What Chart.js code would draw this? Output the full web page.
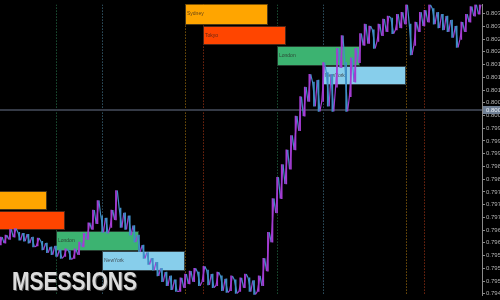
<!DOCTYPE html>
<html>
<head>
<meta charset="utf-8">
<script src="https://cdn.jsdelivr.net/npm/chart.js@4"></script>
<style>
  html, body { margin: 0; padding: 0; background: #000; }
  #wrap { width: 500px; height: 300px; }
</style>
</head>
<body>
<div id="wrap"><canvas id="chart"></canvas></div>
<script>
// Half-hour bars, hours counted from the second Sydney open
const firstBarHour = -20;
const barStepHours = 0.5;

const highs = [
  0.79638, 0.79644, 0.79662, 0.79665, 0.79653, 0.79650, 0.79647, 0.79638, 0.79635, 0.79625,
  0.79619, 0.79607, 0.79610, 0.79598, 0.79601, 0.79595, 0.79601, 0.79622, 0.79650, 0.79683,
  0.79723, 0.79753, 0.79705, 0.79698, 0.79723, 0.79784, 0.79729, 0.79714, 0.79705, 0.79674,
  0.79644, 0.79613, 0.79589, 0.79571, 0.79559, 0.79540, 0.79528, 0.79516, 0.79504, 0.79510,
  0.79522, 0.79531, 0.79540, 0.79528, 0.79546, 0.79534, 0.79522, 0.79528, 0.79516, 0.79507,
  0.79516, 0.79504, 0.79510, 0.79522, 0.79510, 0.79501, 0.79516, 0.79571, 0.79653, 0.79759,
  0.79826, 0.79866, 0.79912, 0.79957, 0.80018, 0.80079, 0.80109, 0.80149, 0.80125, 0.80131,
  0.80186, 0.80155, 0.80149, 0.80231, 0.80271, 0.80186, 0.80201, 0.80231, 0.80277, 0.80307,
  0.80301, 0.80289, 0.80307, 0.80323, 0.80332, 0.80326, 0.80338, 0.80344, 0.80368, 0.80307,
  0.80313, 0.80344, 0.80350, 0.80368, 0.80356, 0.80344, 0.80338, 0.80332, 0.80320, 0.80301,
  0.80313, 0.80338, 0.80362, 0.80368, 0.80368
];
const lows = [
  0.79613, 0.79619, 0.79631, 0.79638, 0.79628, 0.79625, 0.79619, 0.79607, 0.79610, 0.79598,
  0.79589, 0.79583, 0.79577, 0.79571, 0.79577, 0.79568, 0.79571, 0.79583, 0.79607, 0.79631,
  0.79662, 0.79680, 0.79653, 0.79650, 0.79668, 0.79692, 0.79668, 0.79662, 0.79644, 0.79622,
  0.79592, 0.79571, 0.79552, 0.79534, 0.79516, 0.79498, 0.79485, 0.79473, 0.79467, 0.79467,
  0.79479, 0.79491, 0.79498, 0.79485, 0.79498, 0.79488, 0.79479, 0.79485, 0.79470, 0.79464,
  0.79470, 0.79461, 0.79467, 0.79479, 0.79467, 0.79458, 0.79467, 0.79485, 0.79531, 0.79622,
  0.79714, 0.79759, 0.79805, 0.79851, 0.79912, 0.79972, 0.80018, 0.80064, 0.80049, 0.80033,
  0.80064, 0.80049, 0.80033, 0.80109, 0.80170, 0.80033, 0.80079, 0.80125, 0.80186, 0.80240,
  0.80246, 0.80231, 0.80253, 0.80271, 0.80283, 0.80277, 0.80289, 0.80295, 0.80307, 0.80210,
  0.80240, 0.80283, 0.80301, 0.80313, 0.80307, 0.80295, 0.80289, 0.80283, 0.80265, 0.80234,
  0.80259, 0.80283, 0.80313, 0.80332, 0.80338
];

const priceTicks = [
  0.80340, 0.80300, 0.80260, 0.80220, 0.80180, 0.80140, 0.80100, 0.80060, 0.80020, 0.79980,
  0.79940, 0.79900, 0.79860, 0.79820, 0.79780, 0.79740, 0.79700, 0.79660, 0.79620, 0.79580,
  0.79540, 0.79500, 0.79460
];

// Sessions
const sessionNames = ['Sydney', 'Tokyo', 'London', 'NewYork'];
const sessionColors = ['#ffa500', '#ff4500', '#3cb371', '#87ceeb'];
const sessionLineColors = ['#b07a10', '#b03a18', '#2a7a50', '#4a7f98'];
const sessionOpens = [0, 2, 10, 15];
const sessionLength = 9;
const dayOffsets = [-24, 0, 24];
const boxHighs = [[0.79784, 0.79720, 0.79656, 0.79595], [0.80372, 0.80301, 0.80237, 0.80176]];
const boxLows  = [[0.79723, 0.79659, 0.79595, 0.79531], [0.80304, 0.80240, 0.80176, 0.80116]];
const crosshairPrice = 0.80038;

const upColor = '#a43cd2';
const downColor = '#3f8fc6';

const isUp = highs.map((h, i) => i === 0 || (h + lows[i]) >= (highs[i - 1] + lows[i - 1]));
const barColors = isUp.map(u => u ? upColor : downColor);

// zigzag trace through each bar's range, low->high on up bars, high->low on down bars
const trace = [];
highs.forEach((h, i) => {
  const t = firstBarHour + i * barStepHours;
  const a = isUp[i] ? lows[i] : h;
  const b = isUp[i] ? h : lows[i];
  trace.push({ x: t - barStepHours * 0.3, y: a });
  trace.push({ x: t + barStepHours * 0.3, y: b });
});

const sessionsPlugin = {
  id: 'sessions',
  beforeDatasetsDraw(chart) {
    const { ctx, chartArea: a, scales: { x, y } } = chart;
    ctx.save();
    ctx.beginPath();
    ctx.rect(a.left, a.top, a.right - a.left, a.bottom - a.top);
    ctx.clip();

    // dotted open lines
    ctx.lineWidth = 1;
    ctx.setLineDash([1, 2]);
    dayOffsets.forEach(d => {
      sessionOpens.forEach((o, s) => {
        const px = Math.round(x.getPixelForValue(d + o)) + 0.5;
        ctx.strokeStyle = sessionLineColors[s];
        ctx.beginPath();
        ctx.moveTo(px, a.top);
        ctx.lineTo(px, a.bottom);
        ctx.stroke();
      });
    });
    ctx.setLineDash([]);

    // session boxes
    boxHighs.forEach((row, day) => {
      row.forEach((hi, s) => {
        const start = dayOffsets[day] + sessionOpens[s];
        const x1 = Math.round(x.getPixelForValue(start));
        const x2 = Math.round(x.getPixelForValue(start + sessionLength));
        const y1 = Math.round(y.getPixelForValue(hi));
        const y2 = Math.round(y.getPixelForValue(boxLows[day][s]));
        ctx.fillStyle = sessionColors[s];
        ctx.fillRect(x1, y1, x2 - x1, y2 - y1);
        ctx.strokeStyle = 'rgba(30,30,30,0.8)';
        ctx.strokeRect(x1 + 0.5, y1 + 0.5, x2 - x1 - 1, y2 - y1 - 1);
        ctx.fillStyle = 'rgba(40,30,30,0.75)';
        ctx.font = '5px "Liberation Sans"';
        ctx.textBaseline = 'middle';
        ctx.fillText(sessionNames[s], x1 + 2, (y1 + y2) / 2);
      });
    });

    // crosshair
    const cy = Math.round(y.getPixelForValue(crosshairPrice));
    ctx.fillStyle = '#353a46';
    ctx.fillRect(a.left, cy - 1, a.right - a.left, 2);
    ctx.restore();
  },
  afterDraw(chart) {
    const { ctx, chartArea: a, scales: { y } } = chart;
    const cy = Math.round(y.getPixelForValue(crosshairPrice));
    ctx.save();
    ctx.fillStyle = '#6f7f94';
    ctx.fillRect(a.right + 1, cy - 4, 18, 8);
    ctx.fillStyle = '#e8eef4';
    ctx.font = '6px "Liberation Sans"';
    ctx.textBaseline = 'middle';
    ctx.fillText(crosshairPrice.toFixed(5), a.right + 4, cy);

    ctx.font = 'bold 25px "Liberation Sans"';
    ctx.textBaseline = 'alphabetic';
    ctx.fillStyle = '#555';
    ctx.fillText('MSESSIONS', 13, 291, 125);
    ctx.fillStyle = '#dcdcdc';
    ctx.fillText('MSESSIONS', 12, 290, 125);
    ctx.restore();
  }
};

new Chart(document.getElementById('chart'), {
  data: {
    datasets: [{
      type: 'line',
      data: trace,
      borderWidth: 1.2,
      pointRadius: 0,
      borderColor: upColor,
      segment: {
        borderColor: c => (c.p1.parsed.y >= c.p0.parsed.y ? upColor : downColor)
      },
      order: 1
    }, {
      type: 'bar',
      data: highs.map((h, i) => ({ x: firstBarHour + i * barStepHours, y: [lows[i], h] })),
      backgroundColor: barColors,
      barThickness: 1,
      borderWidth: 0,
      order: 2
    }]
  },
  options: {
    responsive: true,
    maintainAspectRatio: false,
    animation: false,
    layout: { padding: 0 },
    plugins: { legend: { display: false }, tooltip: { enabled: false } },
    scales: {
      x: { type: 'linear', min: -20.09, max: 32.25, offset: false, display: false },
      y: {
        position: 'right',
        min: 0.794548,
        max: 0.803683,
        afterBuildTicks: s => { s.ticks = priceTicks.map(v => ({ value: v })); },
        afterFit: s => { s.width = 18; },
        ticks: {
          color: '#b4b4b4',
          font: { size: 6, family: 'Liberation Sans' },
          padding: 1,
          autoSkip: false,
          callback: v => Number(v).toFixed(5)
        },
        grid: { drawOnChartArea: false, color: '#8a8a8a', tickLength: 3 },
        border: { color: '#8a8a8a' }
      }
    }
  },
  plugins: [sessionsPlugin]
});
</script>
</body>
</html>
